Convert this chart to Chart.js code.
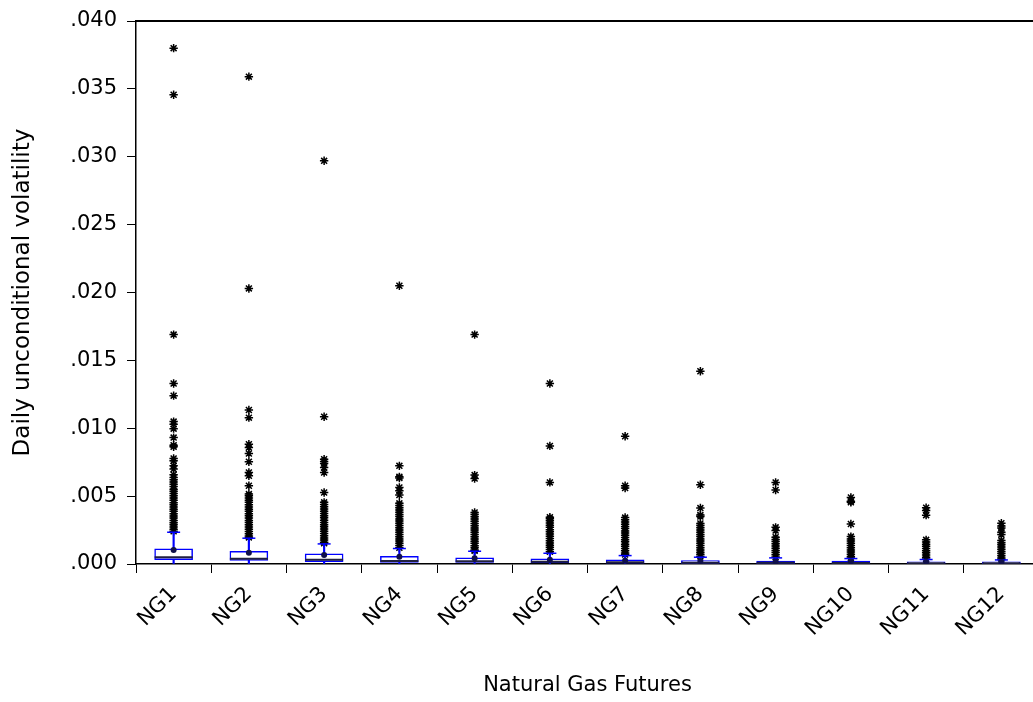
<!DOCTYPE html>
<html>
<head>
<meta charset="utf-8">
<script src="https://cdn.jsdelivr.net/npm/chart.js@4.4.1/dist/chart.umd.min.js"></script>
<style>
  html, body { margin: 0; padding: 0; background: #fff; overflow: hidden; }
</style>
</head>
<body>
<canvas id="boxChart" width="1060" height="702"></canvas>
<script>
// categories and box statistics
var contracts = ['NG1', 'NG2', 'NG3', 'NG4', 'NG5', 'NG6', 'NG7', 'NG8', 'NG9', 'NG10', 'NG11', 'NG12'];
var q1 = [0.00031, 0.00026, 0.00018, 0.00012, 0.00011, 0.00009, 0.00007, 0.00005, 0.00004, 0.00003, 0.00002, 0.00002];
var medians = [0.00050, 0.00038, 0.00031, 0.00022, 0.00020, 0.00016, 0.00013, 0.00010, 0.00009, 0.00008, 0.00006, 0.00006];
var q3 = [0.00112, 0.00094, 0.00075, 0.00057, 0.00045, 0.00038, 0.00031, 0.00026, 0.00021, 0.00021, 0.00016, 0.00016];
var means = [0.00104, 0.00082, 0.00067, 0.00053, 0.00043, 0.00031, 0.00026, 0.00022, 0.00018, 0.00018, 0.00014, 0.00014];
var whiskerLo = [0, 0, 0, 0, 0, 0, 0, 0, 0, 0, 0, 0];
var whiskerHi = [0.00234, 0.00190, 0.00148, 0.00114, 0.00094, 0.00079, 0.00062, 0.00050, 0.00045, 0.00040, 0.00033, 0.00030];

// outside values per contract
var outliers = [
  [0.0380, 0.03457, 0.0169, 0.0133, 0.0124, 0.01049, 0.01029, 0.00997, 0.00931, 0.00875, 0.00863, 0.00777, 0.0076, 0.00723, 0.00699, 0.00657, 0.00637, 0.00621, 0.00604, 0.00588, 0.0057, 0.00551, 0.00536, 0.0052, 0.00503, 0.00487, 0.0047, 0.00452, 0.00437, 0.0042, 0.00404, 0.00388, 0.0037, 0.00353, 0.00338, 0.0032, 0.00304, 0.00289, 0.00272, 0.00256, 0.00241],
  [0.0359, 0.0203, 0.01134, 0.01078, 0.00882, 0.00858, 0.00814, 0.00753, 0.00674, 0.0065, 0.00576, 0.00515, 0.00502, 0.00486, 0.0047, 0.00454, 0.00437, 0.0042, 0.00404, 0.00388, 0.00371, 0.00355, 0.00338, 0.00321, 0.00305, 0.00289, 0.00272, 0.00256, 0.0024, 0.00223, 0.00207, 0.00196],
  [0.0297, 0.01085, 0.00772, 0.00755, 0.0074, 0.00711, 0.00674, 0.00527, 0.00454, 0.00438, 0.00421, 0.00405, 0.00388, 0.00372, 0.00356, 0.0034, 0.00323, 0.00306, 0.0029, 0.00274, 0.00257, 0.00241, 0.00225, 0.00208, 0.00192, 0.00176, 0.0016, 0.00153],
  [0.0205, 0.00723, 0.00642, 0.00633, 0.00564, 0.0054, 0.00508, 0.00447, 0.00431, 0.00414, 0.00398, 0.00381, 0.00365, 0.00349, 0.00332, 0.00316, 0.003, 0.00283, 0.00267, 0.0025, 0.00234, 0.00218, 0.00201, 0.00185, 0.00169, 0.00152, 0.00136, 0.00119],
  [0.0169, 0.00655, 0.0063, 0.0038, 0.00364, 0.00348, 0.00331, 0.00315, 0.00299, 0.00282, 0.00266, 0.0025, 0.00233, 0.00217, 0.00201, 0.00184, 0.00168, 0.00152, 0.00135, 0.00119, 0.00103, 0.00097],
  [0.0133, 0.0087, 0.00601, 0.00344, 0.00333, 0.00318, 0.00302, 0.00286, 0.0027, 0.00253, 0.00237, 0.00221, 0.00204, 0.00188, 0.00172, 0.00155, 0.00139, 0.00123, 0.00106, 0.0009],
  [0.00941, 0.00576, 0.00559, 0.00342, 0.00326, 0.0031, 0.00293, 0.00277, 0.00261, 0.00244, 0.00228, 0.00212, 0.00195, 0.00179, 0.00163, 0.00146, 0.0013, 0.00114, 0.00097, 0.00081, 0.0007],
  [0.0142, 0.00584, 0.00412, 0.00361, 0.00349, 0.00298, 0.00283, 0.00267, 0.00251, 0.00234, 0.00218, 0.00202, 0.00185, 0.00169, 0.00153, 0.00136, 0.0012, 0.00104, 0.00087, 0.00071, 0.00057],
  [0.00601, 0.00545, 0.0027, 0.00246, 0.00197, 0.00181, 0.00165, 0.00149, 0.00132, 0.00116, 0.001, 0.00084, 0.00068, 0.00052],
  [0.0049, 0.00462, 0.00454, 0.00295, 0.00202, 0.00185, 0.00169, 0.00153, 0.00137, 0.0012, 0.00104, 0.00088, 0.00072, 0.00056, 0.00044],
  [0.00415, 0.00395, 0.0036, 0.00178, 0.00162, 0.00146, 0.0013, 0.00114, 0.00098, 0.00082, 0.00066, 0.0005, 0.00037],
  [0.003, 0.0028, 0.00265, 0.00234, 0.00217, 0.00173, 0.00157, 0.00141, 0.00125, 0.00109, 0.00093, 0.00077, 0.00061, 0.00045, 0.00033]
];
var yTicks = [0, 0.005, 0.010, 0.015, 0.020, 0.025, 0.030, 0.035, 0.040];

var blue = '#0000ff';
var fontFam = "'DejaVu Sans', sans-serif";

var outlierPts = [];
for (var i = 0; i < contracts.length; i++) {
  for (var j = 0; j < outliers[i].length; j++) {
    outlierPts.push({ x: contracts[i], y: outliers[i][j] });
  }
}
var boxes = [], whiskers = [];
for (var k = 0; k < contracts.length; k++) {
  boxes.push([q1[k], q3[k]]);
  whiskers.push([whiskerLo[k], whiskerHi[k]]);
}

// thick frame line along the top of the plot
var topLine = {
  id: 'topLine',
  afterDraw: function(chart) {
    var ctx = chart.ctx, a = chart.chartArea;
    ctx.save();
    ctx.strokeStyle = '#000';
    ctx.lineWidth = 2;
    ctx.beginPath();
    ctx.moveTo(a.left - 1, a.top);
    ctx.lineTo(a.right, a.top);
    ctx.stroke();
    ctx.restore();
  }
};

Chart.defaults.font.family = fontFam;
Chart.defaults.color = '#000';

var ctx = document.getElementById('boxChart').getContext('2d');
var chart = new Chart(ctx, {
  type: 'bar',
  data: {
    labels: contracts,
    datasets: [
      {
        type: 'line', label: 'mean', data: means, showLine: false, order: 0,
        pointStyle: 'circle', pointRadius: 3, pointBackgroundColor: '#10104a', pointBorderColor: '#10104a', pointBorderWidth: 0
      },
      {
        type: 'line', label: 'median', data: medians, showLine: false, order: 1,
        pointStyle: 'line', pointRadius: 19, pointBorderColor: '#202040', pointBorderWidth: 2
      },
      {
        type: 'line', label: 'cap', data: whiskerHi, showLine: false, order: 2,
        pointStyle: 'line', pointRadius: 6.5, pointBorderColor: blue, pointBorderWidth: 1.5
      },
      {
        type: 'bar', label: 'box', data: boxes, order: 3, grouped: false,
        barThickness: 38, backgroundColor: '#fff', borderColor: blue, borderWidth: 1.5, borderSkipped: false
      },
      {
        type: 'bar', label: 'whisker', data: whiskers, order: 4, grouped: false,
        barThickness: 1.5, backgroundColor: blue, borderWidth: 0
      },
      {
        type: 'line', label: 'outliers', data: outlierPts, showLine: false, order: 5,
        pointStyle: 'star', pointRadius: 4.2, pointBorderColor: '#000', pointBackgroundColor: '#000', pointBorderWidth: 1.5
      }
    ]
  },
  options: {
    responsive: false,
    animation: false,
    events: [],
    layout: { padding: { top: 14, right: 6, left: 0, bottom: 0 } },
    plugins: { legend: { display: false }, tooltip: { enabled: false } },
    scales: {
      x: {
        type: 'category',
        offset: true,
        grid: { offset: true, drawOnChartArea: false, drawTicks: true, tickLength: 9, color: '#000' },
        border: { color: '#000', width: 1.5 },
        ticks: { autoSkip: false, minRotation: 45, maxRotation: 45, padding: 9, font: { size: 21 } },
        title: { display: true, text: 'Natural Gas Futures', font: { size: 21 }, padding: { top: 0, bottom: 4 } },
        afterFit: function(s) { s.height = 138; s.paddingLeft = 0; s.paddingRight = 0; }
      },
      y: {
        min: 0,
        max: 0.04,
        afterBuildTicks: function(s) { s.ticks = yTicks.map(function(v) { return { value: v }; }); },
        ticks: {
          padding: 10,
          font: { size: 21 },
          callback: function(v) { return v.toFixed(3).replace(/^0/, ''); }
        },
        grid: { drawOnChartArea: false, tickLength: 9, color: '#000' },
        border: { color: '#000', width: 1.5 },
        title: { display: true, text: 'Daily unconditional volatility', font: { size: 23 }, padding: { top: 9, bottom: 0 } },
        afterFit: function(s) { s.width = 136; s.paddingTop = 0; s.paddingBottom = 0; }
      }
    }
  },
  plugins: [topLine]
});
</script>
</body>
</html>
